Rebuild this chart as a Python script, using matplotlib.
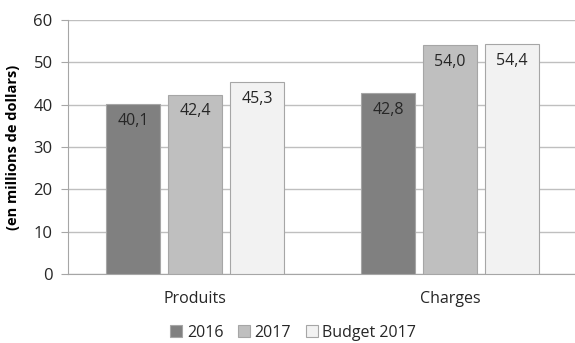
import matplotlib.pyplot as plt
import numpy as np

plt.rcParams['font.family'] = ['Open Sans', 'DejaVu Sans']

categories = ['Produits', 'Charges']
series = ['2016', '2017', 'Budget 2017']
values_2016 = [40.1, 42.8]
values_2017 = [42.4, 54.0]
values_budget = [45.3, 54.4]
yticks = [0, 10, 20, 30, 40, 50, 60]

colors = ['#808080', '#bfbfbf', '#f2f2f2']
edge = '#a6a6a6'

fig = plt.figure(figsize=(5.75, 3.43), dpi=100)
ax = fig.add_axes([68 / 575, 69 / 343, 507 / 575, 254 / 343])

x = np.arange(len(categories))
w = 0.212
step = 0.243
for i, (name, vals) in enumerate(zip(series, [values_2016, values_2017, values_budget])):
    pos = x + (i - 1) * step
    bars = ax.bar(pos, vals, width=w, color=colors[i], edgecolor=edge, linewidth=0.8,
                  label=name, zorder=3)
    for b, v in zip(bars, vals):
        ax.text(b.get_x() + b.get_width() / 2, v - 4.0, f'{v:.1f}'.replace('.', ','),
                ha='center', va='center', fontsize=11.5, color='#262626', zorder=4)

ax.set_ylim(0, 60)
ax.set_xlim(-0.498, 1.49)
ax.set_yticks(yticks)
ax.yaxis.grid(True, color='#bfbfbf', linewidth=1, zorder=0)
ax.set_xticks(x)
ax.set_xticklabels(categories)
ax.tick_params(axis='x', length=0, pad=12, labelsize=11.5, labelcolor='#262626')
ax.tick_params(axis='y', length=5, color='#a6a6a6', pad=6, labelsize=12, labelcolor='#262626')
for s in ['top', 'right']:
    ax.spines[s].set_visible(False)
ax.spines['left'].set_color('#a6a6a6')
ax.spines['bottom'].set_color('#a6a6a6')
ax.set_ylabel('(en millions de dollars)', fontsize=10.5, fontweight='bold', labelpad=10)

fig.legend(loc='lower center', bbox_to_anchor=(0.51, -0.035), ncol=3, frameon=False,
           fontsize=11.5, handlelength=0.75, handleheight=0.75, handletextpad=0.3,
           columnspacing=0.9, labelcolor='#262626')

fig.savefig('out.png', dpi=100)
